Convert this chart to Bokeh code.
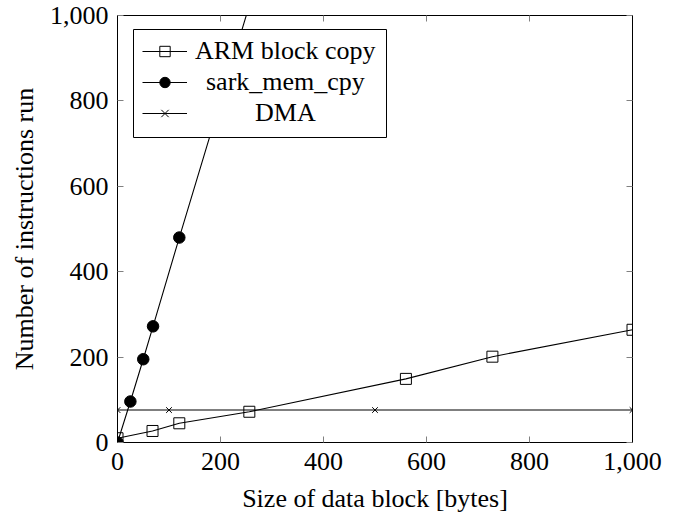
from bokeh.plotting import figure
from bokeh.models import (LinearAxis, NumeralTickFormatter, FixedTicker, Range1d, Legend,
                          LegendItem, BoxAnnotation, CustomJSTickFormatter)
from bokeh.embed import file_html
from bokeh.resources import INLINE

# ---- data ----
arm_x = [0, 68, 120, 256, 560, 728, 1000]
arm_y = [10, 27, 45, 72, 149, 201, 264]

sark_x = [0, 25, 50, 69, 120, 256]
sark_y = [0, 96, 195, 272, 480, 1024]

dma_x = [0, 100, 500, 1000]
dma_y = [76, 76, 76, 76]

x_ticks = [0, 200, 400, 600, 800, 1000]
y_ticks = [0, 200, 400, 600, 800, 1000]

labels = ["ARM block copy", "sark_mem_cpy", "DMA"]
x_title = "Size of data block [bytes]"
y_title = "Number of instructions run"

FONT = "Liberation Serif"
FS = "26px"

W, H = 680, 516
FL, FT, FR, FB = 117, 15, 632, 442   # frame edges (page px)

p = figure(width=W, height=H, output_backend="svg", toolbar_location=None,
           x_range=Range1d(0, 1000), y_range=Range1d(0, 1000),
           min_border_left=FL, min_border_right=W - FR, min_border_top=FT, min_border_bottom=H - FB)
p.background_fill_color = "white"
p.border_fill_color = "white"
p.outline_line_color = "black"
p.outline_line_width = 1
p.xgrid.visible = False
p.ygrid.visible = False

def style_axis(ax, ticks, labels_on=True):
    ax.ticker = FixedTicker(ticks=ticks)
    if labels_on:
        ax.formatter = NumeralTickFormatter(format="0,0")
    else:
        ax.formatter = CustomJSTickFormatter(code="return ''")
        ax.major_label_standoff = 0
    ax.minor_tick_line_color = None
    ax.major_tick_in = 6
    ax.major_tick_out = 0
    ax.major_tick_line_color = "#808080"
    ax.axis_line_color = "black"
    ax.major_label_text_font = FONT
    ax.major_label_text_font_size = FS
    ax.major_label_text_color = "black"
    ax.axis_label_text_font = FONT
    ax.axis_label_text_font_size = FS
    ax.axis_label_text_font_style = "normal"
    ax.axis_label_text_color = "black"

xa = p.xaxis[0]
ya = p.yaxis[0]
style_axis(xa, x_ticks)
style_axis(ya, y_ticks)
xa.axis_label = x_title
ya.axis_label = y_title
xa.major_label_standoff = 10
ya.major_label_standoff = 9
xa.axis_label_standoff = 11
ya.axis_label_standoff = 8

top = LinearAxis()
right = LinearAxis()
style_axis(top, x_ticks, False)
style_axis(right, y_ticks, False)
p.add_layout(top, "above")
p.add_layout(right, "right")

lw = 1.1
r1l = p.line(arm_x, arm_y, line_color="black", line_width=lw)
r1m = p.scatter(arm_x, arm_y, marker="square", size=11, line_color="black", fill_color=None, line_width=1)
r2l = p.line(sark_x, sark_y, line_color="black", line_width=lw)
r2m = p.scatter(sark_x, sark_y, marker="circle", size=11.5, line_color="black", fill_color="black")
r3l = p.line(dma_x, dma_y, line_color="black", line_width=lw)
r3m = p.scatter(dma_x, dma_y, marker="x", size=8, line_color="black", line_width=1)

# legend frame (screen units, measured from the frame's bottom-left corner)
frame_h = FB - FT
box = BoxAnnotation(left=133 - FL, right=386 - FL, top=FB - 29, bottom=FB - 137,
                    left_units="screen", right_units="screen", top_units="screen", bottom_units="screen",
                    fill_color="white", fill_alpha=1, line_color="black", line_alpha=1, line_width=1)
p.add_layout(box)

rows = [(labels[0], [r1l, r1m], 37.5, 8),
        (labels[1], [r2l, r2m], 68.5, 19),
        (labels[2], [r3l, r3m], 100.0, 68)]
for lab, rends, cy, standoff in rows:
    lg = Legend(items=[LegendItem(label=lab, renderers=rends)],
                location=(142 - FL, frame_h - (cy + 13)))
    lg.padding = 0
    lg.margin = 0
    lg.spacing = 0
    lg.glyph_width = 45
    lg.glyph_height = 26
    lg.label_height = 26
    lg.label_standoff = standoff
    lg.label_text_font = FONT
    lg.label_text_font_size = FS
    lg.label_text_color = "black"
    lg.border_line_color = None
    lg.background_fill_alpha = 0
    p.add_layout(lg, "center")

open("out.html", "w").write(file_html(p, INLINE))
